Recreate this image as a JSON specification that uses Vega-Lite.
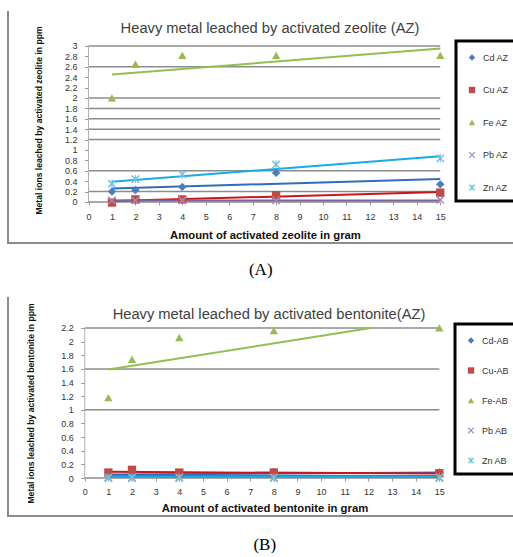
{
  "$schema": "https://vega.github.io/schema/vega-lite/v6.json",
  "background": "white",
  "padding": {"top": 10, "left": 7, "right": 0, "bottom": 0},
  "spacing": 18,
  "config": {
    "font": "Liberation Sans",
    "axis": {"labelFont": "Liberation Sans", "labelFontSize": 9, "labelColor": "#333333", "titleFont": "Liberation Sans", "titleFontSize": 11.3, "titleFontWeight": "bold", "titleColor": "#111111", "grid": false, "domain": false, "tickColor": "#999999", "labelOverlap": false, "labelFlush": false},
    "legend": {"labelFont": "Liberation Sans", "labelFontSize": 9, "labelColor": "#333333", "strokeColor": "#000000", "strokeWidth": 3, "fillColor": "white", "padding": 8, "symbolOffset": 3.5, "labelOffset": 6.5, "symbolSize": 40, "symbolStrokeWidth": 0, "titleFontSize": 4, "titlePadding": 0},
    "title": {"font": "Liberation Sans", "fontSize": 14.7, "fontWeight": "normal", "color": "#404040"}
  },
  "datasets": {
    "gridA": [{"v": 0}, {"v": 0.2}, {"v": 0.6}, {"v": 1.2}, {"v": 1.4}, {"v": 1.6}, {"v": 1.8}, {"v": 2}, {"v": 2.6}, {"v": 3}],
    "gridB": [{"v": 0}, {"v": 1}, {"v": 1.6}, {"v": 2.2}],
    "ptsA": [
      {"s": "Cd AZ", "x": 1, "y": 0.2}, {"s": "Cd AZ", "x": 2, "y": 0.23}, {"s": "Cd AZ", "x": 4, "y": 0.29}, {"s": "Cd AZ", "x": 8, "y": 0.56}, {"s": "Cd AZ", "x": 15, "y": 0.34},
      {"s": "Cu AZ", "x": 1, "y": -0.01}, {"s": "Cu AZ", "x": 2, "y": 0.05}, {"s": "Cu AZ", "x": 4, "y": 0.05}, {"s": "Cu AZ", "x": 8, "y": 0.13}, {"s": "Cu AZ", "x": 15, "y": 0.18},
      {"s": "Fe AZ", "x": 1, "y": 2.0}, {"s": "Fe AZ", "x": 2, "y": 2.65}, {"s": "Fe AZ", "x": 4, "y": 2.82}, {"s": "Fe AZ", "x": 8, "y": 2.82}, {"s": "Fe AZ", "x": 15, "y": 2.82},
      {"s": "Pb AZ", "x": 1, "y": 0.03}, {"s": "Pb AZ", "x": 2, "y": 0.03}, {"s": "Pb AZ", "x": 4, "y": 0.03}, {"s": "Pb AZ", "x": 8, "y": 0.03}, {"s": "Pb AZ", "x": 15, "y": 0.04},
      {"s": "Zn AZ", "x": 1, "y": 0.35}, {"s": "Zn AZ", "x": 2, "y": 0.44}, {"s": "Zn AZ", "x": 4, "y": 0.53}, {"s": "Zn AZ", "x": 8, "y": 0.72}, {"s": "Zn AZ", "x": 15, "y": 0.84}
    ],
    "trendA": [
      {"t": "Linear (Cd AZ)", "x": 1, "y": 0.26}, {"t": "Linear (Cd AZ)", "x": 15, "y": 0.44},
      {"t": "Linear (Cu AZ)", "x": 1, "y": 0.02}, {"t": "Linear (Cu AZ)", "x": 15, "y": 0.19},
      {"t": "Linear (Fe AZ)", "x": 1, "y": 2.45}, {"t": "Linear (Fe AZ)", "x": 15, "y": 2.95},
      {"t": "Linear (Pb AZ)", "x": 1, "y": 0.03}, {"t": "Linear (Pb AZ)", "x": 15, "y": 0.03},
      {"t": "Linear (Zn AZ)", "x": 1, "y": 0.39}, {"t": "Linear (Zn AZ)", "x": 15, "y": 0.88}
    ],
    "ptsB": [
      {"s": "Cd-AB", "x": 1, "y": 0.05}, {"s": "Cd-AB", "x": 2, "y": 0.05}, {"s": "Cd-AB", "x": 4, "y": 0.06}, {"s": "Cd-AB", "x": 8, "y": 0.09}, {"s": "Cd-AB", "x": 15, "y": 0.08},
      {"s": "Cu-AB", "x": 1, "y": 0.08}, {"s": "Cu-AB", "x": 2, "y": 0.12}, {"s": "Cu-AB", "x": 4, "y": 0.08}, {"s": "Cu-AB", "x": 8, "y": 0.08}, {"s": "Cu-AB", "x": 15, "y": 0.07},
      {"s": "Fe-AB", "x": 1, "y": 1.18}, {"s": "Fe-AB", "x": 2, "y": 1.74}, {"s": "Fe-AB", "x": 4, "y": 2.06}, {"s": "Fe-AB", "x": 8, "y": 2.16}, {"s": "Fe-AB", "x": 15, "y": 2.2},
      {"s": "Pb AB", "x": 1, "y": 0.0}, {"s": "Pb AB", "x": 2, "y": 0.0}, {"s": "Pb AB", "x": 4, "y": 0.0}, {"s": "Pb AB", "x": 8, "y": 0.0}, {"s": "Pb AB", "x": 15, "y": 0.0},
      {"s": "Zn AB", "x": 1, "y": 0.01}, {"s": "Zn AB", "x": 2, "y": 0.01}, {"s": "Zn AB", "x": 4, "y": 0.01}, {"s": "Zn AB", "x": 8, "y": 0.01}, {"s": "Zn AB", "x": 15, "y": 0.01}
    ],
    "trendB": [
      {"t": "Linear (Cd-AB)", "x": 1, "y": 0.05}, {"t": "Linear (Cd-AB)", "x": 15, "y": 0.08},
      {"t": "Linear (Cu-AB)", "x": 1, "y": 0.09}, {"t": "Linear (Cu-AB)", "x": 15, "y": 0.065},
      {"t": "Linear (Fe-AB)", "x": 1, "y": 1.59}, {"t": "Linear (Fe-AB)", "x": 12.1, "y": 2.2},
      {"t": "Linear (Pb AB)", "x": 1, "y": 0.03}, {"t": "Linear (Pb AB)", "x": 15, "y": 0.03},
      {"t": "Linear (Zn AB)", "x": 1, "y": 0.015}, {"t": "Linear (Zn AB)", "x": 15, "y": 0.015}
    ]
  },
  "resolve": {"scale": {"x": "independent", "y": "independent", "color": "independent", "shape": "independent", "stroke": "independent"}, "legend": {"color": "independent", "shape": "independent"}, "axis": {"x": "independent", "y": "independent"}},
  "vconcat": [
    {
      "title": {"text": "(A)", "orient": "bottom", "anchor": "middle", "frame": "bounds", "font": "Liberation Serif", "fontSize": 17, "fontWeight": "normal", "color": "#000000", "offset": 18, "dx": -2},
      "vconcat": [
        {
          "width": 506,
          "height": 232,
          "view": {"stroke": "#8c8c8c", "strokeWidth": 2, "strokeDash": [0, 738, 738, 0]},
          "title": {"text": "Heavy metal leached by activated zeolite (AZ)", "anchor": "middle", "frame": "group", "offset": -25, "dx": 9},
          "layer": [
            {
              "data": {"name": "gridA"},
              "mark": {"type": "rule", "color": "#8c8c8c", "strokeWidth": 1.5},
              "encoding": {
                "x": {"datum": 0, "type": "quantitative", "scale": {"domain": [-3.433, 18.145], "nice": false, "zero": false},
                      "axis": {"values": [0,1,2,3,4,5,6,7,8,9,10,11,12,13,14,15], "tickCount": 100, "labelOverlap": false, "format": "d", "offset": -41, "tickSize": 3, "labelPadding": 7, "title": "Amount of activated zeolite in gram", "titleX": 257, "titleY": 33, "titleBaseline": "middle", "titleAlign": "center"}},
                "x2": {"datum": 15},
                "y": {"field": "v", "type": "quantitative", "scale": {"domain": [-0.7885, 3.673], "nice": false, "zero": false},
                      "axis": {"values": [0,0.2,0.4,0.6,0.8,1,1.2,1.4,1.6,1.8,2,2.2,2.4,2.6,2.8,3], "tickCount": 100, "labelOverlap": false, "format": ".1~f", "offset": -80.5, "tickSize": 4, "labelPadding": 7.5, "title": "Metal ions leached by activated zeolite in ppm", "titleFontSize": 8.6, "titleX": -50.5, "titleY": 109, "titleBaseline": "middle", "titleAlign": "center"}}
              }
            },
            {
              "data": {"values": [{}]},
              "mark": {"type": "rule", "color": "#b0b0b0", "strokeWidth": 1},
              "encoding": {
                "x": {"datum": 0, "type": "quantitative", "scale": {"domain": [-3.433, 18.145], "nice": false, "zero": false}},
                "y": {"datum": 0, "type": "quantitative", "scale": {"domain": [-0.7885, 3.673], "nice": false, "zero": false}},
                "y2": {"datum": 3}
              }
            },
            {
              "data": {"name": "trendA"},
              "mark": {"type": "line", "strokeWidth": 2},
              "encoding": {
                "x": {"field": "x", "type": "quantitative", "scale": {"domain": [-3.433, 18.145], "nice": false, "zero": false}},
                "y": {"field": "y", "type": "quantitative", "scale": {"domain": [-0.7885, 3.673], "nice": false, "zero": false}},
                "stroke": {"field": "t", "type": "nominal", "scale": {"domain": ["Linear (Cd AZ)", "Linear (Cu AZ)", "Linear (Fe AZ)", "Linear (Pb AZ)", "Linear (Zn AZ)"], "range": ["#2F6EBA", "#C8161D", "#92C050", "#8064A2", "#1AAAE6"]}, "legend": null}
              }
            },
            {
              "data": {"name": "ptsA"},
              "mark": {"type": "point", "filled": true, "size": 70, "opacity": 1},
              "encoding": {
                "x": {"field": "x", "type": "quantitative", "scale": {"domain": [-3.433, 18.145], "nice": false, "zero": false}},
                "y": {"field": "y", "type": "quantitative", "scale": {"domain": [-0.7885, 3.673], "nice": false, "zero": false}},
                "color": {"field": "s", "type": "nominal", "scale": {"domain": ["Cd AZ", "Cu AZ", "Fe AZ", "Pb AZ", "Zn AZ"], "range": ["#4A7EBB", "#BE4B48", "#98B954", "#9F8CC0", "#6EC3E0"]},
                          "legend": {"title": " ", "orient": "none", "legendX": 448, "legendY": 30, "rowPadding": 22.5}},
                "shape": {"field": "s", "type": "nominal", "scale": {"domain": ["Cd AZ", "Cu AZ", "Fe AZ", "Pb AZ", "Zn AZ"], "range": ["diamond", "square", "triangle-up", "M-1,-0.75L-0.75,-1L0,-0.25L0.75,-1L1,-0.75L0.25,0L1,0.75L0.75,1L0,0.25L-0.75,1L-1,0.75L-0.25,0Z", "M-1,-0.75L-0.75,-1L0,-0.25L0.75,-1L1,-0.75L0.25,0L1,0.75L0.75,1L0,0.25L-0.75,1L-1,0.75L-0.25,0ZM-0.12,-1L0.12,-1L0.12,1L-0.12,1Z"]},
                          "legend": {"title": " ", "orient": "none", "legendX": 448, "legendY": 30, "rowPadding": 22.5}}
              }
            }
          ]
        }
      ]
    },
    {
      "title": {"text": "(B)", "orient": "bottom", "anchor": "middle", "frame": "bounds", "font": "Liberation Serif", "fontSize": 17, "fontWeight": "normal", "color": "#000000", "offset": 20, "dx": 2},
      "vconcat": [
        {
          "width": 506,
          "height": 219,
          "view": {"stroke": "#8c8c8c", "strokeWidth": 2, "strokeDash": [0, 725, 725, 0]},
          "title": {"text": "Heavy metal leached by activated bentonite(AZ)", "anchor": "middle", "frame": "group", "offset": -25, "dx": 8},
          "layer": [
            {
              "data": {"name": "gridB"},
              "mark": {"type": "rule", "color": "#8c8c8c", "strokeWidth": 1.5},
              "encoding": {
                "x": {"datum": 0, "type": "quantitative", "scale": {"domain": [-3.245, 18.159], "nice": false, "zero": false},
                      "axis": {"values": [0,1,2,3,4,5,6,7,8,9,10,11,12,13,14,15], "tickCount": 100, "labelOverlap": false, "format": "d", "offset": -38, "tickSize": 3, "labelPadding": 6, "title": "Amount of activated bentonite in gram", "titleX": 256.5, "titleY": 30, "titleBaseline": "middle", "titleAlign": "center"}},
                "x2": {"datum": 15},
                "y": {"field": "v", "type": "quantitative", "scale": {"domain": [-0.557, 2.654], "nice": false, "zero": false},
                      "axis": {"values": [0,0.2,0.4,0.6,0.8,1,1.2,1.4,1.6,1.8,2,2.2], "tickCount": 100, "labelOverlap": false, "format": ".1~f", "offset": -76.7, "tickSize": 4, "labelPadding": 7.5, "title": "Metal ions leached by activated bentonite in ppm", "titleFontSize": 8.6, "titleX": -53.7, "titleY": 106, "titleBaseline": "middle", "titleAlign": "center"}}
              }
            },
            {
              "data": {"values": [{}]},
              "mark": {"type": "rule", "color": "#b0b0b0", "strokeWidth": 1},
              "encoding": {
                "x": {"datum": 0, "type": "quantitative", "scale": {"domain": [-3.245, 18.159], "nice": false, "zero": false}},
                "y": {"datum": 0, "type": "quantitative", "scale": {"domain": [-0.557, 2.654], "nice": false, "zero": false}},
                "y2": {"datum": 2.2}
              }
            },
            {
              "data": {"name": "trendB"},
              "mark": {"type": "line", "strokeWidth": 2},
              "encoding": {
                "x": {"field": "x", "type": "quantitative", "scale": {"domain": [-3.245, 18.159], "nice": false, "zero": false}},
                "y": {"field": "y", "type": "quantitative", "scale": {"domain": [-0.557, 2.654], "nice": false, "zero": false}},
                "stroke": {"field": "t", "type": "nominal", "scale": {"domain": ["Linear (Cd-AB)", "Linear (Cu-AB)", "Linear (Fe-AB)", "Linear (Pb AB)", "Linear (Zn AB)"], "range": ["#2F6EBA", "#C8161D", "#92C050", "#8064A2", "#1AAAE6"]}, "legend": null}
              }
            },
            {
              "data": {"name": "ptsB"},
              "mark": {"type": "point", "filled": true, "size": 70, "opacity": 1},
              "encoding": {
                "x": {"field": "x", "type": "quantitative", "scale": {"domain": [-3.245, 18.159], "nice": false, "zero": false}},
                "y": {"field": "y", "type": "quantitative", "scale": {"domain": [-0.557, 2.654], "nice": false, "zero": false}},
                "color": {"field": "s", "type": "nominal", "scale": {"domain": ["Cd-AB", "Cu-AB", "Fe-AB", "Pb AB", "Zn AB"], "range": ["#4A7EBB", "#BE4B48", "#98B954", "#9F8CC0", "#6EC3E0"]},
                          "legend": {"title": " ", "orient": "none", "legendX": 447, "legendY": 27, "rowPadding": 20}},
                "shape": {"field": "s", "type": "nominal", "scale": {"domain": ["Cd-AB", "Cu-AB", "Fe-AB", "Pb AB", "Zn AB"], "range": ["diamond", "square", "triangle-up", "M-1,-0.75L-0.75,-1L0,-0.25L0.75,-1L1,-0.75L0.25,0L1,0.75L0.75,1L0,0.25L-0.75,1L-1,0.75L-0.25,0Z", "M-1,-0.75L-0.75,-1L0,-0.25L0.75,-1L1,-0.75L0.25,0L1,0.75L0.75,1L0,0.25L-0.75,1L-1,0.75L-0.25,0ZM-0.12,-1L0.12,-1L0.12,1L-0.12,1Z"]},
                          "legend": {"title": " ", "orient": "none", "legendX": 447, "legendY": 27, "rowPadding": 20}}
              }
            }
          ]
        }
      ]
    }
  ]
}
